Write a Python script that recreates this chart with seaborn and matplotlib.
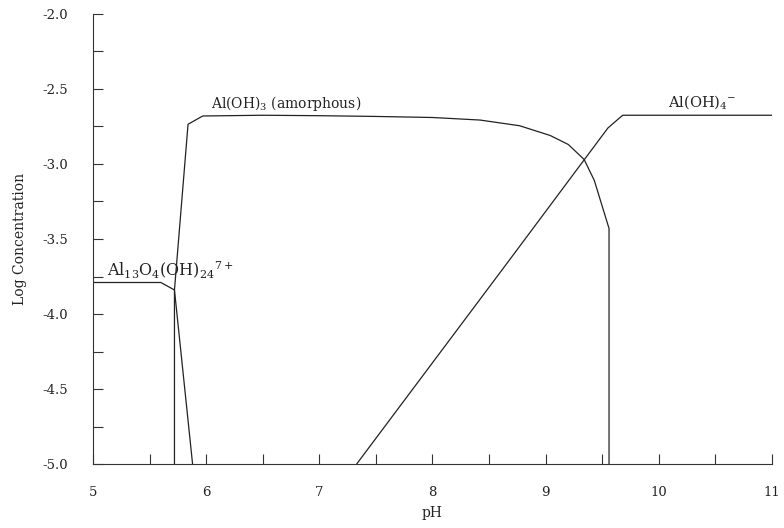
import matplotlib
matplotlib.use("Agg")
import matplotlib.pyplot as plt
import numpy as np
import pandas as pd
import seaborn as sns
from matplotlib.ticker import MultipleLocator, FormatStrFormatter

# Aluminium speciation vs pH
al13_ph = [5.0, 5.6, 5.72, 5.88]
al13_logc = [-3.79, -3.79, -3.84, -5.0]

aloh3_ph = [5.72, 5.72, 5.84, 5.97, 6.5, 7.0, 7.5, 8.0, 8.42, 8.77,
            9.04, 9.2, 9.34, 9.43, 9.56, 9.56]
aloh3_logc = [-5.0, -3.84, -2.735, -2.68, -2.675, -2.678, -2.683, -2.69, -2.707, -2.745,
              -2.81, -2.87, -2.97, -3.11, -3.43, -5.0]

aloh4_ph = [7.33, 8.68, 9.55, 9.68, 11.0]
aloh4_logc = [-5.0, -3.64, -2.76, -2.675, -2.675]

sns.set_style("ticks")
plt.rcParams["font.family"] = ["DejaVu Serif"]
plt.rcParams["mathtext.fontset"] = "dejavuserif"
plt.rcParams["axes.unicode_minus"] = False

fig = plt.figure(figsize=(7.84, 5.28), dpi=100)
ax = fig.add_axes([0.1186, 0.1212, 0.8661, 0.8523])

curves = [
    ("Al13", al13_ph, al13_logc),
    ("AlOH3", aloh3_ph, aloh3_logc),
    ("AlOH4", aloh4_ph, aloh4_logc),
]
for name, ph, lc in curves:
    df = pd.DataFrame({"pH": ph, "logc": lc})
    sns.lineplot(data=df, x="pH", y="logc", sort=False, estimator=None,
                 color="#222222", linewidth=0.9, ax=ax)

ax.set_xlim(5, 11)
ax.set_ylim(-5.0, -2.0)
ax.xaxis.set_major_locator(MultipleLocator(1))
ax.xaxis.set_minor_locator(MultipleLocator(0.5))
ax.yaxis.set_major_locator(MultipleLocator(0.5))
ax.yaxis.set_minor_locator(MultipleLocator(0.25))
ax.yaxis.set_major_formatter(FormatStrFormatter("%.1f"))
ax.tick_params(which="both", direction="in", length=7, width=0.8, color="#333333")
ax.tick_params(axis="x", which="major", pad=16, labelsize=9.5, labelcolor="#222222")
ax.tick_params(axis="y", which="major", pad=18, labelsize=9.5, labelcolor="#222222")

for s in ("top", "right"):
    ax.spines[s].set_visible(False)
for s in ("left", "bottom"):
    ax.spines[s].set_linewidth(0.8)
    ax.spines[s].set_color("#333333")

ax.set_xlabel("pH", fontsize=10, labelpad=5, color="#222222")
ax.set_ylabel("Log Concentration", fontsize=10, labelpad=11, color="#222222")

ax.text(5.12, -3.75, r"$\mathrm{Al_{13}O_4(OH)_{24}{}^{7+}}$", fontsize=11.5, color="#222222")
ax.text(6.04, -2.63, r"$\mathrm{Al(OH)_3}$ (amorphous)", fontsize=10, color="#222222")
ax.text(10.08, -2.62, r"$\mathrm{Al(OH)_4{}^{-}}$", fontsize=10.5, color="#222222")

fig.savefig("out.png", dpi=100)
